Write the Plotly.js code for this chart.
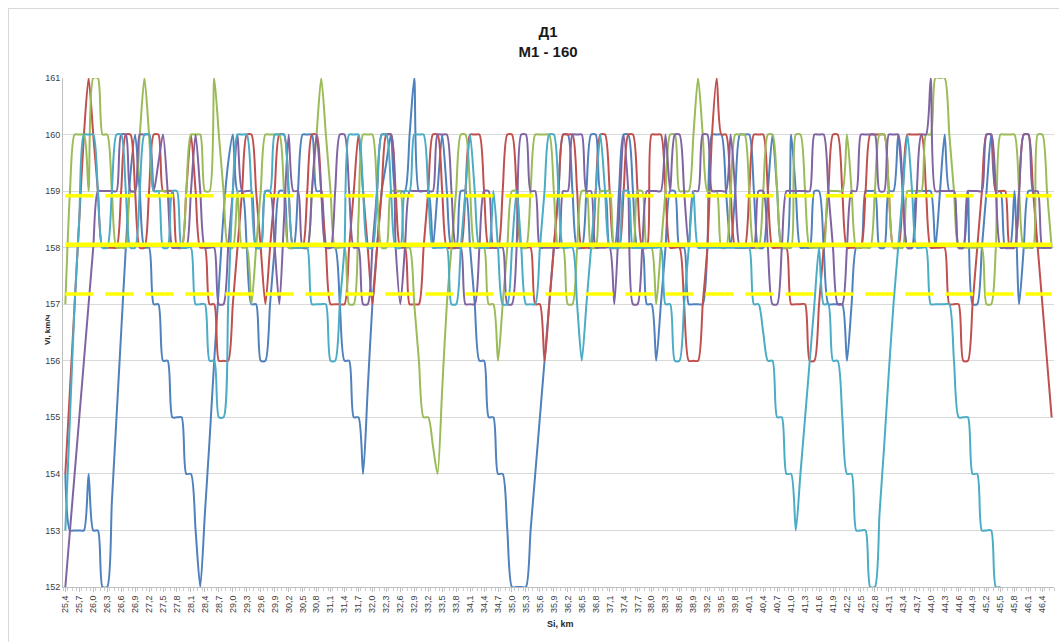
<!DOCTYPE html>
<html><head><meta charset="utf-8">
<script src="https://cdn.plot.ly/plotly-3.0.1.min.js"></script>
<style>
html,body{margin:0;padding:0;background:#fff;}
#chart{position:absolute;left:0;top:0;width:1059px;height:642px;}
#frame{position:absolute;left:8px;top:8px;width:1100px;height:700px;border:1px solid #d9d9d9;pointer-events:none;}
</style></head>
<body>
<div id="chart"></div><div id="frame"></div>
<script>
// Distance, km (categories)
const distKm = [25.4,25.5,25.6,25.7,25.8,25.9,26.0,26.1,26.2,26.3,26.4,26.5,26.6,26.7,26.8,26.9,27.0,27.1,27.2,27.3,27.4,27.5,27.6,27.7,27.8,27.9,28.0,28.1,28.2,28.3,28.4,28.5,28.6,28.7,28.8,28.9,29.0,29.1,29.2,29.3,29.4,29.5,29.6,29.7,29.8,29.9,30.0,30.1,30.2,30.3,30.4,30.5,30.6,30.7,30.8,30.9,31.0,31.1,31.2,31.3,31.4,31.5,31.6,31.7,31.8,31.9,32.0,32.1,32.2,32.3,32.4,32.5,32.6,32.7,32.8,32.9,33.0,33.1,33.2,33.3,33.4,33.5,33.6,33.7,33.8,33.9,34.0,34.1,34.2,34.3,34.4,34.5,34.6,34.7,34.8,34.9,35.0,35.1,35.2,35.3,35.4,35.5,35.6,35.7,35.8,35.9,36.0,36.1,36.2,36.3,36.4,36.5,36.6,36.7,36.8,36.9,37.0,37.1,37.2,37.3,37.4,37.5,37.6,37.7,37.8,37.9,38.0,38.1,38.2,38.3,38.4,38.5,38.6,38.7,38.8,38.9,39.0,39.1,39.2,39.3,39.4,39.5,39.6,39.7,39.8,39.9,40.0,40.1,40.2,40.3,40.4,40.5,40.6,40.7,40.8,40.9,41.0,41.1,41.2,41.3,41.4,41.5,41.6,41.7,41.8,41.9,42.0,42.1,42.2,42.3,42.4,42.5,42.6,42.7,42.8,42.9,43.0,43.1,43.2,43.3,43.4,43.5,43.6,43.7,43.8,43.9,44.0,44.1,44.2,44.3,44.4,44.5,44.6,44.7,44.8,44.9,45.0,45.1,45.2,45.3,45.4,45.5,45.6,45.7,45.8,45.9,46.0,46.1,46.2,46.3,46.4,46.5,46.6];

// Speed series, km/h
const run1 = [154,153,153,153,153,154,153,153,152,152,
153.5,155,156.5,158,159.3,160,159,158,158,157,
157,156,156,155,155,155,154,154,153,152,
153.3,154.6,156,157.3,158.6,159.5,160,159,159,158,
157,157,156,156,157,158,159,159,158,158,
159,160,160,160,159,159,158,158,158,157,
156,156,155,155,154,155.5,157,158,159,159.5,
160,159,159,159,160,161,159,159,159,158,
159,160,159,158,158,159,159,158,157,156,
156,155,155,154,154,153,152,152,152,152,
153,154,155,156,157,158,159,160,160,159,
158,158,159,160,160,159,159,158,158,159,
160,160,159,158,158,157,157,156,157,158,
159,159,158,158,157,157,157,157,158,160,
160,160,159,158,159,160,160,160,159,158,
158,159,160,159,158,158,160,159,158,158,
158,159,159,158,157,157,157,157,156,157,
158,158,159,159,159,158,158,159,159,160,
159,158,158,159,159,159,159,158,159,160,
159,159,158,158,159,157,157,158,159,160,
159,159,158,158,159,157,158,159,159,158,158,158,158];

const run2 = [154,155.5,157,158.5,160,161,160,159,158,158,
158,158,159,160,160,159,158,158,159,160,
160,159,159,159,158,158,159,160,159,158,
158,157,157,156,156,156,157,158,159,160,
160,159,158,157,158,159,160,160,159,158,
158,158,159,160,160,159,158,157,157,157,
157,158,159,160,159,158,157,158,159,160,
160,159,158,158,157,157,157,158,159,160,
160,159,158,158,158,158,159,160,160,160,
159,158,158,158,159,160,160,159,158,158,
158,157,157,156,157,158,159,160,160,160,
159,158,158,158,159,160,160,159,158,158,
159,160,160,159,158,158,160,160,160,159,
158,158,158,157,156,156,156,157,158,160,
161,160,160,159,158,158,158,159,160,160,
160,159,158,158,158,158,157,157,157,157,
156,156,157,158,159,160,160,159,158,158,
158,158,159,160,160,160,160,159,158,158,
159,160,160,160,160,159,158,158,158,158,
157,157,157,156,156,157,158,159,160,160,
159,159,159,158,158,159,160,160,159,158,157,156,155];

const run3 = [157,159,160,160,160,159,161,161,160,160,
159,158,158,158,159,159,160,161,160,159,
159,159,159,158,158,158,159,160,160,160,
159,159,161,160,159,158,158,159,158,158,
157,158,159,160,160,160,160,159,158,158,
158,158,158,159,160,161,160,159,158,158,
158,157,157,158.5,160,160,160,159,158,158,
159,159,159,158,158,157,156,155,155,154.5,
154,155.5,157,158,159,160,160,159,158,158,
158,157,157,156,157,158,159,159,158,158,
159,160,160,160,160,159,158,158,157,157,
158,159,159,158,158,159,159,159,158,158,
158,158,158,159,159,158,158,157,158,159,
160,160,159,159,159,160,161,160,159,159,
159,158,158,159,160,160,160,159,158,158,
159,160,160,159,158,158,158,160,160,159,
158,158,158,158,159,159,159,159,160,159,
158,158,158,158,159,160,160,159,158,158,
158,159,159,159,159,160,160,161,161,161,
160,159,158,158,158,158,158,158,157,157,
158,160,160,160,160,159,158,158,158,160,160,159,158];

const run4 = [152,153,154,155,156,157,158,159,159,159,
159,159,160,160,159,159,160,160,160,159,
159.5,160,159,158,158,158,158,159,160,159,
158,158,158,157,157,158,159,160,159,159,
159,158,158,159,159,158,157,158.5,160,159,
159,158,158,159,160,159,158,158,159,160,
160,159,158,158,157,157,158,159,160,160,
160,158,157,158,159,159,159,159,159,159,
160,160,160,159,158,158,157,157,157,158,
159,159,158,158,158,157,157,158,160,160,
159,159,158,158,158,158,158,159,159,160,
160,160,159,159,158,158,158,158,157,158.5,
160,159,157,157,158,159,159,159,159,160,
159,160,160,159,158,159,159,160,160,159,
159,159,159,160,159,158,158,158,158,159,
159,158,157,157,158,159,159,159,159,159,
159,160,160,160,159,158,157,157,158,159,
159,160,160,160,160,159,159,160,160,160,
159,158,158,159,160,160,161,159,159,159,
159,159,158,158,159,159,159,159,160,160,
159,158,158,158,158,159,160,160,159,159,158,158,158];

const run5 = [153,155,157,158.5,160,160,160,159,158,158,
159,160,160,159,158,158,159,160,160,159,
159,158,158,159,159,158,158,158,157,157,
157,156,156,155,155,157,159,160,160,160,
159,158,158,159,159,160,160,160,159,158,
158,158,158,157,157,157,157,156,156,157,
158,160,160,160,159,158,158,159,160,160,
159,158,158,159,159,160,160,160,159,158,
158,158,158,157,157,158,159,160,159,158,
158,158,159,158,157,157,158,159,158,157,
157,157,158,159,160,160,159,158,158,158,
157,156,157,158,159,160,159,158,158,158,
159,159,158,158,158,158,158,158,158,157,
157,156,156,157,158,159,158,158,158,158,
158,158,158,158,158,158,158,158,157,157,
156.5,156,156,155,155,154,154,153,154,155,
156,157,158,157,157,156,156,155,154,154,
153,153,153,152,152,153.3,154.5,155.8,157,158,
159,160,159,158,158,158,157,157,157,157,
157,156,155,155,155,154,154,153,153,153,152,152];

// Reference levels, km/h
const meanLevel = 158.05;
const upperLevel = 158.92;
const lowerLevel = 157.18;

const seriesColors = ['#4F81BD','#C0504D','#9BBB59','#8064A2','#4BACC6'];
const runs = [run1, run2, run3, run4, run5];

const traces = runs.map((vals, k) => ({
  type: 'scatter', mode: 'lines',
  x: distKm.slice(0, vals.length), y: vals,
  line: {color: seriesColors[k], width: 2, shape: 'spline', smoothing: 0.7},
  hoverinfo: 'skip', showlegend: false
}));

const xEnds = [distKm[0], distKm[distKm.length - 1]];
[[upperLevel, '28px,12px', 3.5], [meanLevel, 'solid', 4.5], [lowerLevel, '28px,12px', 3.5]].forEach(([lv, dash, w]) => {
  traces.push({type: 'scatter', mode: 'lines', x: xEnds, y: [lv, lv],
    line: {color: '#FFFF00', width: w, dash: dash}, hoverinfo: 'skip', showlegend: false});
});

const W = 1059, H = 642, L = 63, R = 5, T = 78, B = 55;
const pw = W - L - R, ph = H - T - B;
const fontFam = 'Liberation Sans Narrow, Liberation Sans, Arial, sans-serif';

const layout = {
  width: W, height: H,
  margin: {l: L, r: R, t: T, b: B, pad: 0},
  paper_bgcolor: '#ffffff', plot_bgcolor: '#ffffff',
  separators: ', ',
  font: {family: fontFam, color: '#404040', size: 9},
  title: {text: '<b>Д1</b><br><b>М1 - 160</b>', x: 548 / W, xanchor: 'center', xref: 'container',
          y: 1 - 37 / H, yanchor: 'top', yref: 'container',
          font: {family: 'Liberation Sans, Arial, sans-serif', size: 15, color: '#1a1a1a'}},
  xaxis: {
    range: [25.35, 46.65], tickmode: 'linear', tick0: 25.4, dtick: 0.3, tickformat: '.1f',
    tickangle: -90, showgrid: false, zeroline: false,
    showline: true, linecolor: '#bfbfbf', linewidth: 1,
    ticks: 'outside', ticklen: 4, tickcolor: '#bfbfbf',
    minor: {tick0: 25.35, dtick: 0.1, ticks: 'outside', ticklen: 3, tickcolor: '#cccccc', showgrid: false},
    tickfont: {size: 9, color: '#404040', family: fontFam}
  },
  yaxis: {
    range: [152, 161], tickmode: 'linear', tick0: 152, dtick: 1,
    showgrid: true, gridcolor: '#d9d9d9', gridwidth: 1, zeroline: false,
    showline: true, linecolor: '#bfbfbf', linewidth: 1,
    ticks: '', tickfont: {size: 9, color: '#404040', family: fontFam}
  },
  annotations: [
    {text: '<b>Si, km</b>', xref: 'paper', yref: 'paper', x: (560 - L) / pw, y: -(624 - (H - B)) / ph,
     xanchor: 'center', yanchor: 'middle', showarrow: false, font: {size: 9, color: '#262626'}},
    {text: '<b>Vi, km/ч</b>', xref: 'paper', yref: 'paper', x: (47 - L) / pw, y: (H - B - 330) / ph,
     xanchor: 'center', yanchor: 'middle', textangle: -90, showarrow: false, font: {size: 8, color: '#262626'}}
  ]
};

Plotly.newPlot('chart', traces, layout, {staticPlot: true, displayModeBar: false});
</script>
</body></html>
